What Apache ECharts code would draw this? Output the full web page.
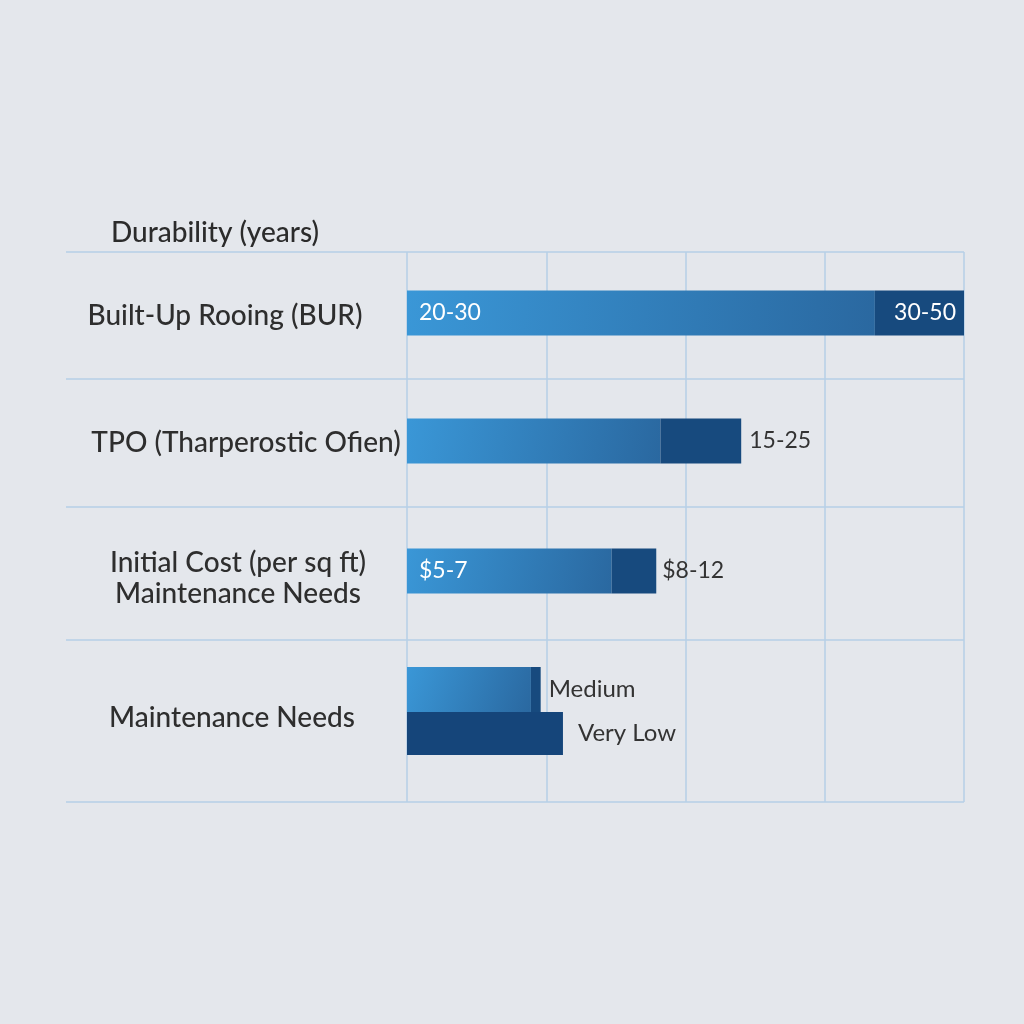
<!DOCTYPE html>
<html>
<head>
<meta charset="utf-8">
<script src="https://cdn.jsdelivr.net/npm/echarts@6/dist/echarts.min.js"></script>
<style>
  html, body { margin: 0; padding: 0; background: #e4e7ec; }
  #chart { width: 1024px; height: 1024px; }
</style>
</head>
<body>
<div id="chart"></div>
<script>
// values (x scale 0..4 across the grid)
const categories = [
  'Built-Up Rooing (BUR)',
  'TPO (Tharperostic Ofien)',
  'Initial Cost (per sq ft)\nMaintenance Needs',
  'Maintenance Needs'
];
const lowValues = [3.36, 1.82, 1.47, 0.89];
const highValues = [0.64, 0.58, 0.32, 0.07];
const extraValues = [null, null, null, 1.12];
const lowLabels = ['20-30', '', '$5-7', ''];
const highLabels = ['30-50', '15-25', '$8-12', 'Medium'];
const extraLabels = ['', '', '', 'Very Low'];
const xTicks = [0, 1, 2, 3, 4];

// layout
const rowLines = [252, 379, 507, 640, 802];
const barCenters = [313, 441, 571, 711];
const labelCenters = [225, 246, 238, 232];
const labelShift = [6, 4, 14, 14];
const gridLeft = 407, gridRight = 60;

const font = 'Lato, "Open Sans", sans-serif';
const lineColor = '#b6cfe7';
const lightFill = {
  type: 'linear', x: 0, y: 0, x2: 1, y2: 1,
  colorStops: [{ offset: 0, color: '#3a97d7' }, { offset: 1, color: '#2a68a0' }]
};
const darkFill = '#174a7e';

const grids = [{ left: gridLeft, right: gridRight, top: rowLines[0], bottom: 1024 - rowLines[4] }];
const xAxes = [{
  gridIndex: 0, type: 'value', min: xTicks[0], max: xTicks[xTicks.length - 1], interval: 1,
  axisLabel: { show: false }, axisLine: { show: false }, axisTick: { show: false },
  splitLine: { show: true, lineStyle: { color: lineColor, width: 1.5 } }
}];
const yAxes = [{ gridIndex: 0, type: 'value', show: false, min: 0, max: 1 }];
const series = [];

categories.forEach((cat, i) => {
  const g = i + 1;
  grids.push({ left: gridLeft, right: gridRight, top: barCenters[i] - 50, height: 100 });
  xAxes.push({ gridIndex: g, type: 'value', min: 0, max: 4, show: false });
  yAxes.push({
    gridIndex: g, type: 'category', data: [cat], inverse: true,
    axisLine: { show: false }, axisTick: { show: false },
    axisLabel: {
      margin: gridLeft - labelCenters[i], align: 'center', color: '#2e2e2e',
      fontFamily: font, fontWeight: 500, fontSize: 28, lineHeight: 31,
      // a tiny spacer line pushes the text down a few pixels
      formatter: v => '{s| }\n' + v.split('\n').map(t => '{t|' + t + '}').join('\n'),
      rich: {
        s: { fontSize: 1, lineHeight: labelShift[i] },
        t: { fontFamily: font, fontWeight: 500, fontSize: 28, lineHeight: 31, color: '#2e2e2e' }
      }
    }
  });
  series.push({
    type: 'bar', xAxisIndex: g, yAxisIndex: g, stack: 'row' + i, barWidth: 45, barGap: '0%',
    data: [lowValues[i]],
    itemStyle: { color: lightFill },
    label: {
      show: lowLabels[i] !== '', position: 'insideLeft', distance: 12,
      formatter: () => lowLabels[i], color: '#fff', fontFamily: font, fontSize: 23
    }
  });
  series.push({
    type: 'bar', xAxisIndex: g, yAxisIndex: g, stack: 'row' + i, barWidth: 45, barGap: '0%',
    data: [highValues[i]],
    itemStyle: { color: darkFill },
    label: {
      show: true, position: i === 0 ? 'insideRight' : 'right', distance: i === 2 ? 6 : 8,
      formatter: () => highLabels[i],
      color: i === 0 ? '#fff' : '#333', fontFamily: font, fontSize: i === 3 ? 24 : 23
    }
  });
  if (extraValues[i] != null) {
    series.push({
      type: 'bar', xAxisIndex: g, yAxisIndex: g, stack: 'extra' + i, barWidth: 43, barGap: '0%',
      data: [extraValues[i]],
      itemStyle: { color: '#15457a' },
      label: {
        show: true, position: 'right', distance: 15,
        formatter: () => extraLabels[i], color: '#333', fontFamily: font, fontSize: 24
      }
    });
  }
});

const chart = echarts.init(document.getElementById('chart'));
chart.setOption({
  backgroundColor: '#e4e7ec',
  animation: false,
  title: {
    text: 'Durability (years)', left: 106, top: 214,
    textStyle: { fontFamily: font, fontSize: 28, fontWeight: 500, color: '#2b2b2b' }
  },
  grid: grids,
  xAxis: xAxes,
  yAxis: yAxes,
  series: series,
  graphic: rowLines.map(y => ({
    type: 'line', silent: true,
    shape: { x1: 66, y1: y, x2: 1024 - gridRight, y2: y },
    style: { stroke: lineColor, lineWidth: 1.5 }
  }))
});
</script>
</body>
</html>
